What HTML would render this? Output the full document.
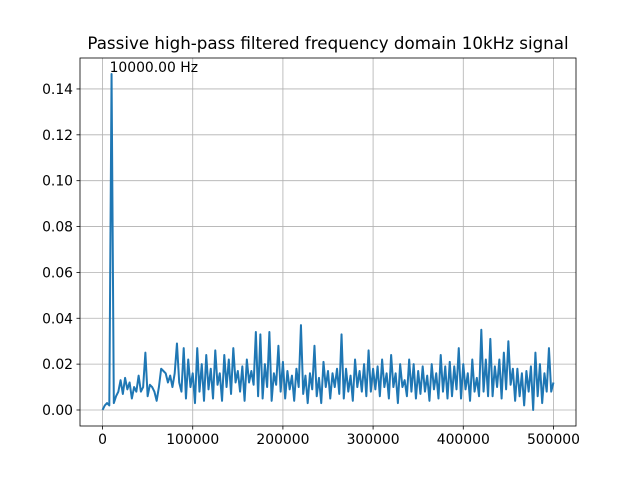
<!DOCTYPE html>
<html><head><meta charset="utf-8"><style>
body{margin:0;background:#fff}
svg{display:block;font-family:"DejaVu Sans","Liberation Sans",sans-serif}
</style></head><body>
<svg id="chart" width="640" height="480" xmlns="http://www.w3.org/2000/svg"></svg>
<script>
const freqStep = 2500;
const magnitudes = [0.000,0.002,0.003,0.002,0.1465,0.003,0.006,0.008,0.013,0.007,0.014,0.009,0.012,0.005,0.010,0.008,0.015,0.008,0.010,0.025,0.006,0.011,0.010,0.008,0.004,0.010,0.018,0.017,0.016,0.012,0.015,0.010,0.016,0.029,0.012,0.008,0.027,0.005,0.022,0.010,0.016,0.003,0.027,0.008,0.020,0.004,0.024,0.009,0.018,0.005,0.026,0.011,0.016,0.004,0.024,0.010,0.022,0.007,0.027,0.012,0.017,0.008,0.019,0.004,0.022,0.012,0.017,0.011,0.034,0.006,0.033,0.005,0.020,0.010,0.034,0.004,0.016,0.011,0.028,0.008,0.021,0.005,0.017,0.009,0.015,0.004,0.018,0.010,0.037,0.007,0.015,0.003,0.016,0.009,0.028,0.006,0.014,0.003,0.021,0.010,0.017,0.005,0.016,0.010,0.018,0.007,0.033,0.005,0.018,0.008,0.015,0.004,0.022,0.010,0.017,0.008,0.020,0.006,0.026,0.008,0.018,0.009,0.019,0.006,0.022,0.010,0.016,0.005,0.024,0.010,0.016,0.003,0.020,0.010,0.013,0.006,0.022,0.008,0.020,0.005,0.017,0.007,0.019,0.008,0.015,0.004,0.020,0.009,0.016,0.005,0.024,0.008,0.019,0.005,0.021,0.006,0.019,0.009,0.027,0.005,0.020,0.009,0.016,0.004,0.022,0.008,0.014,0.006,0.035,0.008,0.022,0.006,0.031,0.006,0.019,0.010,0.022,0.005,0.025,0.009,0.030,0.011,0.018,0.004,0.018,0.006,0.016,0.002,0.017,0.008,0.019,0.000,0.025,0.006,0.020,0.003,0.016,0.008,0.027,0.008,0.012];
const xTicks = [0,100000,200000,300000,400000,500000];
const yTicks = [0.00,0.02,0.04,0.06,0.08,0.10,0.12,0.14];
const peakLabel = "10000.00 Hz";

const L=80,R=576,T=58,B=426;
const xMin=-25000,xMax=525000,yMin=-0.00698,yMax=0.1535;
const sx=v=>L+(v-xMin)/(xMax-xMin)*(R-L);
const sy=v=>B-(v-yMin)/(yMax-yMin)*(B-T);
const svg=document.getElementById('chart');
const NS='http://www.w3.org/2000/svg';
function mk(tag,attrs,parent){const e=document.createElementNS(NS,tag);for(const k in attrs)e.setAttribute(k,attrs[k]);(parent||svg).appendChild(e);return e;}

const grid=mk('g',{});


xTicks.forEach(t=>{
  const x=sx(t);
  mk('line',{x1:x,x2:x,y1:T,y2:B,stroke:'#b0b0b0','stroke-width':0.8},grid);
  mk('line',{x1:x,x2:x,y1:B,y2:B+3.5,stroke:'#000','stroke-width':0.8});
  const tx=mk('text',{x:x,y:B+18,'text-anchor':'middle','font-size':'13.9px'});
  
  
  tx.textContent=String(t);
});
yTicks.forEach(t=>{
  const y=sy(t);
  mk('line',{x1:L,x2:R,y1:y,y2:y,stroke:'#b0b0b0','stroke-width':0.8},grid);
  mk('line',{x1:L-3.5,x2:L,y1:y,y2:y,stroke:'#000','stroke-width':0.8});
  const tx=mk('text',{x:L-7,y:y+5,'text-anchor':'end','font-size':'13.9px'});
  
  
  tx.textContent=t.toFixed(2);
});

let d='';
magnitudes.forEach((v,i)=>{d+=(i?'L':'M')+sx(i*freqStep).toFixed(2)+','+sy(v).toFixed(2);});
const line=mk('path',{d:d,fill:'none',stroke:'#1f77b4','stroke-width':2,'stroke-linejoin':'round'});



const frame=mk('rect',{x:L,y:T,width:R-L,height:B-T,fill:'none',stroke:'#000','stroke-width':0.8});



let pi=0;magnitudes.forEach((v,i)=>{if(v>magnitudes[pi])pi=i;});
const ann=mk('text',{x:sx(pi*freqStep)-2,y:sy(magnitudes[pi])-2,'font-size':'13.9px'});


ann.textContent=peakLabel;

const title=mk('text',{x:(L+R)/2,y:49,'text-anchor':'middle','font-size':'16.7px'});


title.textContent='Passive high-pass filtered frequency domain 10kHz signal';
</script>
</body></html>
